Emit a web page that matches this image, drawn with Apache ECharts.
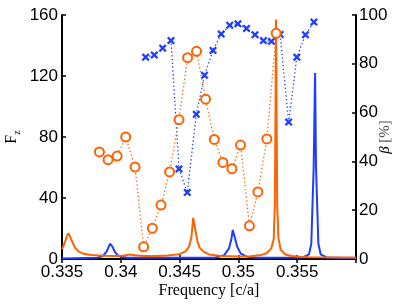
<!DOCTYPE html>
<html>
<head>
<meta charset="utf-8">
<script src="https://cdn.jsdelivr.net/npm/echarts@6/dist/echarts.min.js"></script>
<style>html,body{margin:0;padding:0;background:#fff;}#c{width:407px;height:306px;}</style>
</head>
<body>
<div id="c"></div>
<script>
// Spectrum curves (left axis, F_z)
var orangeSpecFreq = [0.335,0.3352,0.3354,0.33555,0.3357,0.3359,0.3361,0.3364,0.3368,0.3375,0.3385,0.3395,0.3403,0.3408,0.3412,0.3420,0.3430,0.3440,0.3450,0.3455,0.3458,0.3460,0.3461,0.34615,0.3463,0.3465,0.3467,0.3470,0.3475,0.3485,0.3500,0.3510,0.3518,0.3524,0.3528,0.3530,0.3531,0.35315,0.3532,0.35325,0.3533,0.3534,0.3536,0.3540,0.3545,0.3552,0.3560,0.3600];
var orangeSpecVal  = [6.5,10,14.5,17,16,11,7.5,5,3.5,2.6,2.2,2,2.3,3,2.4,2,2,2.3,3.2,5,8,14,22,27,21,12,7.5,5,3,2,1.6,1.8,2.4,3.8,7,13,35,90,157,95,35,14,6,3,2,1.5,1.2,1];
var blueSpecFreq = [0.335,0.3380,0.3385,0.3388,0.3390,0.33910,0.3393,0.3395,0.3398,0.3405,0.3480,0.3488,0.3492,0.3494,0.34952,0.3497,0.3499,0.3502,0.3507,0.3515,0.3555,0.3560,0.3562,0.3564,0.35652,0.3566,0.3568,0.3570,0.3575,0.3600];
var blueSpecVal  = [0.4,0.8,2,5,8.5,10,8,4.5,2,0.8,0.8,2.5,7,13,19,14,8,3.5,1.5,0.8,1,3,10,60,122,60,10,3,1,0.5];
// Markers (right axis, beta %)
var orangeBetaFreq = [0.33818,0.33892,0.33969,0.34042,0.34121,0.34194,0.34268,0.34342,0.34415,0.34495,0.34568,0.34644,0.34721,0.34795,0.34868,0.34945,0.35018,0.35094,0.35166,0.35242,0.35321];
var orangeBetaVal  = [43.9,40.7,42.2,50.0,37.7,5.0,12.6,22.1,35.7,57.1,82.5,85.1,65.5,49.0,39.6,37.0,46.7,13.6,27.5,49.2,92.5];
var blueBetaFreq = [0.34211,0.34285,0.34356,0.34427,0.34495,0.34565,0.34642,0.34712,0.34784,0.34854,0.34926,0.34996,0.35069,0.35141,0.35213,0.35281,0.35355,0.35427,0.35497,0.35570,0.35642];
var blueBetaVal  = [82.7,83.6,86.4,89.5,36.9,27.3,59.3,75.3,85.5,92.2,95.8,96.4,94.5,91.9,89.5,89.2,92.0,56.1,82.7,91.9,97.1];
var xTicks = [0.335,0.34,0.345,0.35,0.355];

function zip(a,b){return a.map(function(v,i){return [v,b[i]];});}
var ORANGE = '#ff6200', BLUE = '#1f3cff';
var chart = echarts.init(document.getElementById('c'), null, {renderer:'canvas'});
var axisFont = {fontFamily:'Liberation Sans, Arial, sans-serif', fontSize:17, color:'#000'};
var cross = 'path://M0,2L2,0L5,3L8,0L10,2L7,5L10,8L8,10L5,7L2,10L0,8L3,5Z';
chart.setOption({
  animation:false,
  grid:{left:62,right:51,top:15,bottom:47,outerBoundsMode:'none',containLabel:false},
  xAxis:[{
    type:'value',min:0.335,max:0.36,interval:0.005,position:'bottom',
    axisLine:{lineStyle:{color:'#000',width:2}},
    axisTick:{inside:true,length:4,lineStyle:{color:'#000',width:1.5}},
    splitLine:{show:false},
    axisLabel:Object.assign({margin:5,formatter:function(v){
      for(var i=0;i<xTicks.length;i++){if(Math.abs(v-xTicks[i])<1e-6)return String(xTicks[i]);}
      return '';}},axisFont),
    name:'Frequency [c/a]',nameLocation:'middle',nameGap:24,nameMoveOverlap:false,
    nameTextStyle:{fontFamily:'Liberation Serif, DejaVu Serif, serif',fontSize:16,color:'#000'}
  },{
    type:'value',min:0.335,max:0.36,interval:0.005,position:'top',
    axisLine:{lineStyle:{color:'#000',width:2}},
    axisTick:{inside:true,length:4,lineStyle:{color:'#000',width:1.5}},
    axisLabel:{show:false},splitLine:{show:false}
  }],
  yAxis:[{
    type:'value',min:0,max:160,interval:40,position:'left',
    axisLine:{show:true,lineStyle:{color:'#000',width:2}},
    axisTick:{show:true,inside:true,length:4,lineStyle:{color:'#000',width:1.5}},
    splitLine:{show:false},
    axisLabel:Object.assign({margin:4},axisFont),
    name:'{a|F}{b|z}',nameLocation:'middle',nameGap:40,nameRotate:90,nameMoveOverlap:false,
    nameTextStyle:{rich:{
      a:{fontFamily:'Liberation Serif, DejaVu Serif, serif',fontSize:16,color:'#000',lineHeight:20},
      b:{fontFamily:'Liberation Serif, DejaVu Serif, serif',fontSize:10,color:'#000',lineHeight:20,verticalAlign:'bottom',padding:[8,0,0,0]}
    }}
  },{
    type:'value',min:0,max:100,interval:20,position:'right',
    axisLine:{show:true,lineStyle:{color:'#000',width:2}},
    axisTick:{show:true,inside:true,length:4,lineStyle:{color:'#000',width:1.5}},
    splitLine:{show:false},
    axisLabel:Object.assign({margin:3},axisFont),
    name:'{a|β} {b|[%]}',nameLocation:'middle',nameGap:22,nameRotate:90,nameMoveOverlap:false,
    nameTextStyle:{rich:{
      a:{fontFamily:'Liberation Serif, DejaVu Serif, serif',fontSize:15,fontStyle:'italic',color:'#000'},
      b:{fontFamily:'Liberation Serif, DejaVu Serif, serif',fontSize:15,color:'#555'}
    }}
  }],
  series:[
    {type:'line',xAxisIndex:0,yAxisIndex:0,data:zip(blueSpecFreq,blueSpecVal),symbol:'none',
     lineStyle:{color:BLUE,width:2},z:2},
    {type:'line',xAxisIndex:0,yAxisIndex:0,data:zip(orangeSpecFreq,orangeSpecVal),symbol:'none',
     lineStyle:{color:ORANGE,width:2},z:3},
    {type:'line',xAxisIndex:0,yAxisIndex:1,data:zip(blueBetaFreq,blueBetaVal),symbol:cross,symbolSize:8,
     lineStyle:{color:BLUE,width:1.3,type:[1.3,2.5]},itemStyle:{color:BLUE},z:4},
    {type:'line',xAxisIndex:0,yAxisIndex:1,data:zip(orangeBetaFreq,orangeBetaVal),symbol:'emptyCircle',symbolSize:9,
     lineStyle:{color:ORANGE,width:1.3,type:[1.3,2.5]},itemStyle:{color:ORANGE,borderWidth:2.2},z:5}
  ]
});
</script>
</body>
</html>
